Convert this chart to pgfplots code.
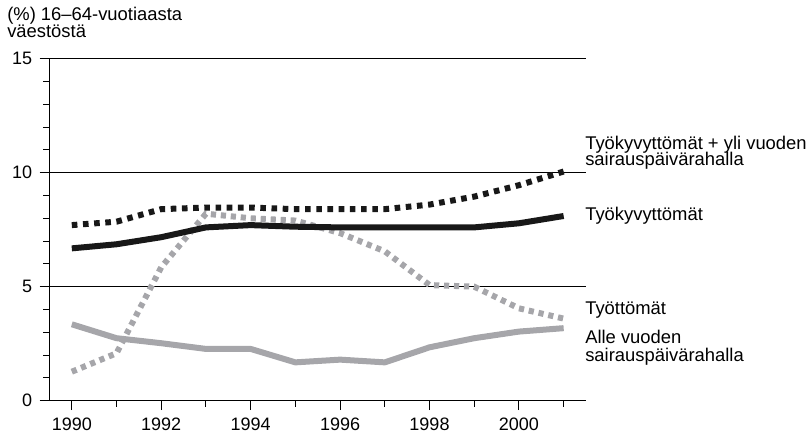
\documentclass[border=0pt]{standalone}
\usepackage{fontspec}
\setmainfont{Liberation Sans}
\usepackage{pgfplots}
\pgfplotsset{compat=1.18}
\definecolor{lgrey}{RGB}{166,166,170}
\definecolor{dblack}{RGB}{24,24,24}
\begin{document}
\begin{tikzpicture}
\begin{axis}[
    scale only axis,
    width=402.75pt, height=256.5pt,
    at={(0,0)}, anchor=south west,
    xmin=1989.49, xmax=2001.5,
    ymin=0, ymax=15,
    axis x line*=bottom, axis y line*=left,
    axis line style={-, line width=0.75pt, black},
    xtick={1990,1992,...,2000},
    minor xtick={1991,1993,...,2001},
    xticklabel style={/pgf/number format/1000 sep={}},
    ytick={0,5,10,15},
    minor ytick={1,2,3,4,6,7,8,9,11,12,13,14},
    tick align=outside,
    major tick length=7pt,
    minor tick length=4.5pt,
    every x tick/.style={line width=0.75pt, black},
    every y tick/.style={line width=0.75pt, black},
    x tick style={line width=0.75pt, black},
    y tick style={line width=0.75pt, black},
    ymajorgrids,
    major grid style={line width=0.75pt, black},
    /pgf/number format/assume math mode=true,
    tick label style={font=\fontsize{13.5}{15}\selectfont, inner sep=0pt},
    xticklabel style={anchor=north, yshift=-6pt},
    yticklabel style={anchor=east, xshift=-5.5pt},
    clip=false,
]
\addplot[draw=lgrey, line width=4.5pt, line join=round] coordinates {
 (1990,3.35) (1991,2.74) (1992,2.52) (1993,2.27) (1994,2.27) (1995,1.68)
 (1996,1.8) (1997,1.68) (1998,2.34) (1999,2.74) (2000,3.03) (2001,3.18)};
\addplot[draw=lgrey, line width=4.5pt, dash pattern=on 3.9pt off 3.6pt] coordinates {
 (1990,1.27) (1991,2.08) (1992,5.85) (1993,8.2) (1994,8.0) (1995,7.9)
 (1996,7.35) (1997,6.55) (1998,5.07) (1999,5.0) (2000,4.05) (2001,3.6)};
\addplot[draw=dblack, line width=4.5pt, line join=round] coordinates {
 (1990,6.68) (1991,6.86) (1992,7.17) (1993,7.6) (1994,7.7) (1995,7.63)
 (1996,7.6) (1997,7.6) (1998,7.6) (1999,7.6) (2000,7.78) (2001,8.1)};
\addplot[draw=dblack, line width=4.5pt, dash pattern=on 4.2pt off 4.2pt] coordinates {
 (1990,7.7) (1991,7.85) (1992,8.4) (1993,8.47) (1994,8.47) (1995,8.4)
 (1996,8.4) (1997,8.4) (1998,8.6) (1999,8.95) (2000,9.45) (2001,10.05)};
\end{axis}
\begin{scope}[every node/.style={inner sep=0pt, font=\fontsize{13.8}{15}\selectfont}]
\node[anchor=base west] at (-31.5pt,285pt) {(\%) 16–64-vuotiaasta};
\node[anchor=base west] at (-31.5pt,272.25pt) {väestöstä};
\node[anchor=base west] at (402pt,188.6pt) {Työkyvyttömät + yli vuoden};
\node[anchor=base west] at (402pt,176.25pt) {sairauspäivärahalla};
\node[anchor=base west] at (402pt,134.8pt) {Työkyvyttömät};
\node[anchor=base west] at (402pt,64.3pt) {Työttömät};
\node[anchor=base west] at (402pt,43.05pt) {Alle vuoden};
\node[anchor=base west] at (402pt,29.25pt) {sairauspäivärahalla};
\end{scope}
\pgfresetboundingbox
\path (-36.75pt,-27.2pt) rectangle (570.75pt,300.5pt);
\end{tikzpicture}
\end{document}
